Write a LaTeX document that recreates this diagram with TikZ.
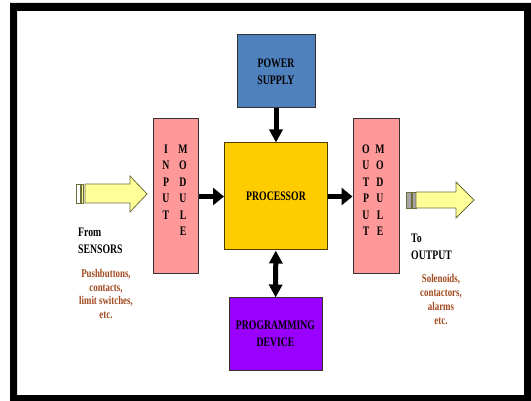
\documentclass[tikz,border=0pt]{standalone}
\usepackage{fontspec}
\setmainfont{Liberation Serif}
\newfontfamily\narrowfont[FakeStretch=0.75]{Liberation Serif}
\definecolor{powerblue}{RGB}{79,129,189}
\definecolor{procyellow}{RGB}{255,204,0}
\definecolor{modpink}{RGB}{255,153,153}
\definecolor{progviolet}{RGB}{153,0,255}
\definecolor{arrowyellow}{RGB}{255,255,153}
\definecolor{arrowedge}{RGB}{110,110,60}
\definecolor{labelbrown}{RGB}{160,72,30}
\usepackage{tikz}
\usetikzlibrary{arrows.meta}

\begin{document}
\begin{tikzpicture}[
  x=1pt,y=-1pt,
  block/.style={rectangle,draw=black!80,line width=1pt,inner sep=0pt,align=center,
                font=\narrowfont\bfseries\fontsize{13}{17}\selectfont},
  letters/.style={inner sep=0pt,align=center,font=\narrowfont\bfseries\fontsize{13}{16.5}\selectfont},
  lbl/.style={inner sep=0pt,align=left,font=\narrowfont\bfseries\fontsize{13}{17}\selectfont},
  sublbl/.style={inner sep=0pt,align=center,color=labelbrown,
                 font=\narrowfont\bfseries\fontsize{11.8}{13.8}\selectfont},
  hflow/.style={-{Triangle[length=11pt,width=17pt]},line width=5pt},
  vflow/.style={-{Triangle[length=13pt,width=13pt]},line width=5pt},
  vboth/.style={{Triangle[length=13pt,width=13pt]}-{Triangle[length=13pt,width=13pt]},line width=5pt},
  bigarrow/.style={fill=arrowyellow,draw=arrowedge,line width=0.8pt},
  stripe/.style={draw=arrowedge,line width=0.8pt},
]
\useasboundingbox (0,0) rectangle (531,401);
\fill[black,even odd rule] (10,3) rectangle (531,401) (17,11) rectangle (524,395);

\node[block,fill=powerblue,minimum width=78pt,minimum height=73pt]   (power) at (276,71.5)  {POWER\\SUPPLY};
\node[block,fill=procyellow,minimum width=103pt,minimum height=107pt,draw=black!70!procyellow] (proc) at (276,196.5) {PROCESSOR};
\node[block,fill=modpink,minimum width=45pt,minimum height=155pt]   (inmod)  at (175.5,196.5) {};
\node[block,fill=modpink,minimum width=46pt,minimum height=155pt]   (outmod) at (376,196.5) {};
\node[block,fill=progviolet,minimum width=93pt,minimum height=72pt] (prog)   at (275.5,334) {PROGRAMMING\\DEVICE};

\node[letters] (inL)  at (166,182)    {I\\N\\P\\U\\T};
\node[letters] (inR)  at (183,190.25) {M\\O\\D\\U\\L\\E};
\node[letters] (outL) at (366,190.25) {O\\U\\T\\P\\U\\T};
\node[letters] (outR) at (380,190.25) {M\\O\\D\\U\\L\\E};

\draw[hflow] (inmod) -- (proc);
\draw[hflow] (proc) -- (outmod);
\draw[vflow] (power) -- (proc);
\draw[vboth] (proc) -- (prog);

% input side
\draw[stripe,fill=white]       (76.5,184) rectangle (80,203);
\draw[stripe,fill=arrowyellow] (81,184) rectangle (83.5,203);
\draw[bigarrow] (85,184) -- (130,184) -- (130,176) -- (147,194) -- (130,212) -- (130,203) -- (85,203) -- cycle;
\node[lbl,anchor=west] (fromlbl) at (78,240.5) {From\\SENSORS};
\node[sublbl] (inlist) at (106,294) {Pushbuttons,\\contacts,\\limit switches,\\etc.};

% output side
\draw[stripe,fill=gray!70] (406,192) rectangle (411,208);
\draw[stripe,fill=gray!70] (412,192) rectangle (416,208);
\draw[bigarrow] (416,192) -- (456,192) -- (456,182) -- (474,200) -- (456,218) -- (456,208) -- (416,208) -- cycle;
\node[lbl,anchor=west] (tolbl) at (411,247) {To\\OUTPUT};
\node[sublbl] (outlist) at (441,299.5) {Solenoids,\\contactors,\\alarms\\etc.};
\end{tikzpicture}
\end{document}
